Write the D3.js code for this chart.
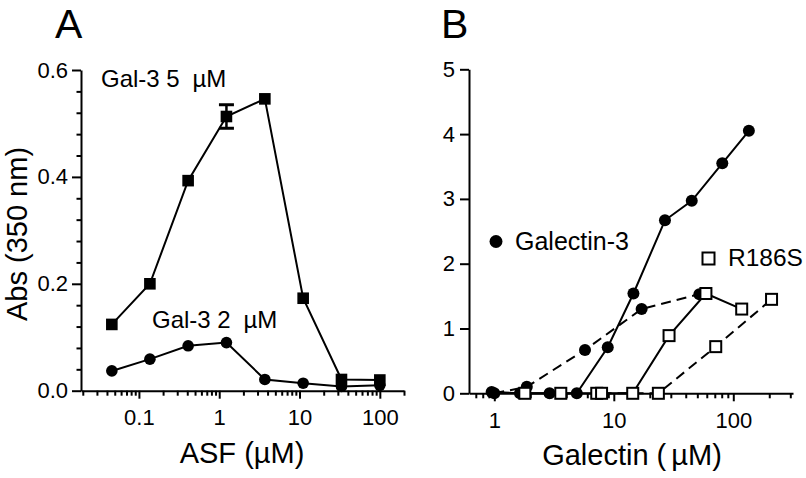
<!DOCTYPE html>
<html><head><meta charset="utf-8">
<script src="https://cdn.jsdelivr.net/npm/d3@7"></script>
<style>
body{margin:0;background:#fff;}
svg{display:block;font-family:"Liberation Sans",Arial,sans-serif;}
</style></head>
<body>
<svg id="chart" width="806" height="478"></svg>
<script>
// Panel A data
const asfConc = [0.046, 0.137, 0.41, 1.23, 3.7, 11.1, 33.3, 100];
const gal3_5uM = [0.124, 0.200, 0.393, 0.513, 0.546, 0.173, 0.021, 0.020];
const gal3_5uM_err = [0, 0, 0, 0.022, 0, 0, 0, 0];
const gal3_2uM = [0.037, 0.059, 0.084, 0.090, 0.021, 0.014, 0.008, 0.010];
const aXTicks = [0.1, 1, 10, 100];
const aXTickLabels = ["0.1", "1", "10", "100"];
const aYTicks = [0, 0.2, 0.4, 0.6];

// Panel B data
const gal3SolidConc = [0.95, 1.64, 2.9, 4.9, 8.9, 14.6, 26.8, 44.9, 80.9, 135];
const gal3SolidAbs  = [0.02, 0.0, 0.0, 0.0, 0.71, 1.54, 2.67, 2.97, 3.55, 4.05];
const gal3DashConc  = [1.0, 1.87, 5.74, 17.1, 52];
const gal3DashAbs   = [0.0, 0.10, 0.67, 1.30, 1.53];
const r186sSolidConc = [1.8, 3.6, 7.2, 14.4, 29, 59, 117.6];
const r186sSolidAbs  = [0, 0, 0, 0, 0.89, 1.54, 1.30];
const r186sDashConc  = [7.9, 23.6, 71.3, 209];
const r186sDashAbs   = [0, 0, 0.72, 1.45];
const bXTicks = [1, 10, 100];
const bXTickLabels = ["1", "10", "100"];
const bYTicks = [0, 1, 2, 3, 4, 5];

const svg = d3.select("#chart");
const FONT_TICK = 22, FONT_TITLE = 29;

function minorLogTicks(lo, hi) {
  const out = [];
  for (let e = -3; e <= 3; e++) {
    for (let m = 1; m <= 9; m++) {
      const v = m * Math.pow(10, e);
      if (v >= lo * 0.999 && v <= hi * 1.001 && m !== 1) out.push(v);
    }
  }
  return out;
}

function styleAxis(g) {
  g.selectAll("path.domain").attr("stroke", "#000").attr("stroke-width", 2);
  g.selectAll(".tick line").attr("stroke", "#000").attr("stroke-width", 2);
  g.selectAll(".tick text").attr("font-size", FONT_TICK).attr("fill", "#000")
    .attr("font-family", "Liberation Sans, Arial, sans-serif");
}

// ---------------- Panel A ----------------
const xA = d3.scaleLog().domain([0.019, 200]).range([81, 404]);
const yA = d3.scaleLinear().domain([0, 0.6]).range([390.7, 70]);

const gAxA = svg.append("g").attr("transform", `translate(0,${yA(0)})`)
  .call(d3.axisBottom(xA).tickValues(aXTicks).tickFormat((d, i) => aXTickLabels[i]).tickSize(8).tickPadding(11).tickSizeOuter(0));
styleAxis(gAxA);
const gAxAm = svg.append("g").attr("transform", `translate(0,${yA(0)})`)
  .call(d3.axisBottom(xA).tickValues(minorLogTicks(0.02, 200)).tickFormat("").tickSize(5).tickSizeOuter(0));
styleAxis(gAxAm);
gAxAm.select("path.domain").remove();

const gAyA = svg.append("g").attr("transform", `translate(${xA.range()[0]},0)`)
  .call(d3.axisLeft(yA).tickValues(aYTicks).tickFormat(d3.format(".1f")).tickSize(9).tickPadding(4).tickSizeOuter(0));
styleAxis(gAyA);
const gAyAm = svg.append("g").attr("transform", `translate(${xA.range()[0]},0)`)
  .call(d3.axisLeft(yA).tickValues(d3.range(0.04, 0.6, 0.04).filter(v => Math.abs(v / 0.2 - Math.round(v / 0.2)) > 0.01)).tickFormat("").tickSize(4.5).tickSizeOuter(0));
styleAxis(gAyAm);
gAyAm.select("path.domain").remove();

const lineA = d3.line().x(d => xA(d[0])).y(d => yA(d[1]));
const dA5 = asfConc.map((c, i) => [c, gal3_5uM[i], gal3_5uM_err[i]]);
const dA2 = asfConc.map((c, i) => [c, gal3_2uM[i]]);

svg.append("path").datum(dA2).attr("d", lineA).attr("fill", "none").attr("stroke", "#000").attr("stroke-width", 2);
svg.append("path").datum(dA5).attr("d", lineA).attr("fill", "none").attr("stroke", "#000").attr("stroke-width", 2);

// error bars
dA5.filter(d => d[2] > 0).forEach(d => {
  const x = xA(d[0]);
  svg.append("line").attr("x1", x).attr("x2", x).attr("y1", yA(d[1] - d[2])).attr("y2", yA(d[1] + d[2]))
    .attr("stroke", "#000").attr("stroke-width", 2.5);
  [d[1] - d[2], d[1] + d[2]].forEach(v => {
    svg.append("line").attr("x1", x - 7.5).attr("x2", x + 7.5).attr("y1", yA(v)).attr("y2", yA(v))
      .attr("stroke", "#000").attr("stroke-width", 3);
  });
});

svg.append("g").selectAll("circle").data(dA2).join("circle")
  .attr("cx", d => xA(d[0])).attr("cy", d => yA(d[1])).attr("r", 5.8).attr("fill", "#000");
svg.append("g").selectAll("rect").data(dA5).join("rect")
  .attr("x", d => xA(d[0]) - 5.8).attr("y", d => yA(d[1]) - 5.8).attr("width", 11.6).attr("height", 11.6).attr("fill", "#000");

// texts A
svg.append("text").attr("x", 55).attr("y", 38).attr("font-size", 41).text("A");
const tA5 = svg.append("text").attr("x", 101).attr("y", 86.5).attr("font-size", 24);
tA5.append("tspan").text("Gal-3 5 ");
tA5.append("tspan").attr("dx", 6).text("µM");
const tA2 = svg.append("text").attr("x", 152).attr("y", 327.5).attr("font-size", 24);
tA2.append("tspan").text("Gal-3 2 ");
tA2.append("tspan").attr("dx", 6).text("µM");
svg.append("text").attr("x", 242).attr("y", 463).attr("text-anchor", "middle").attr("font-size", FONT_TITLE).text("ASF (µM)");
svg.append("text").attr("transform", "translate(27,234) rotate(-90)").attr("text-anchor", "middle")
  .attr("font-size", FONT_TITLE).text("Abs (350 nm)");

// ---------------- Panel B ----------------
const xB = d3.scaleLog().domain([0.614, 316]).range([469, 793]);
const yB = d3.scaleLinear().domain([0, 5]).range([393.3, 69.3]);

const gAxB = svg.append("g").attr("transform", `translate(0,${yB(0)})`)
  .call(d3.axisBottom(xB).tickValues(bXTicks).tickFormat((d, i) => bXTickLabels[i]).tickSize(8).tickPadding(11).tickSizeOuter(0));
styleAxis(gAxB);
const gAxBm = svg.append("g").attr("transform", `translate(0,${yB(0)})`)
  .call(d3.axisBottom(xB).tickValues(minorLogTicks(0.7, 300)).tickFormat("").tickSize(5).tickSizeOuter(0));
styleAxis(gAxBm);
gAxBm.select("path.domain").remove();

const gAyB = svg.append("g").attr("transform", `translate(${xB.range()[0]},0)`)
  .call(d3.axisLeft(yB).tickValues(bYTicks).tickFormat(d3.format("d")).tickSize(9).tickPadding(5).tickSizeOuter(0));
styleAxis(gAyB);

const lineB = d3.line().x(d => xB(d[0])).y(d => yB(d[1]));
const zip = (a, b) => a.map((v, i) => [v, b[i]]);
const dGS = zip(gal3SolidConc, gal3SolidAbs);
const dGD = zip(gal3DashConc, gal3DashAbs);
const dRS = zip(r186sSolidConc, r186sSolidAbs);
const dRD = zip(r186sDashConc, r186sDashAbs);

[[dGD, true], [dRD, true], [dGS, false], [dRS, false]].forEach(([d, dashed]) => {
  svg.append("path").datum(d).attr("d", lineB).attr("fill", "none").attr("stroke", "#000")
    .attr("stroke-width", 2).attr("stroke-dasharray", dashed ? "10,6" : null);
});

[dGS, dGD].forEach(d => {
  svg.append("g").selectAll("circle").data(d).join("circle")
    .attr("cx", p => xB(p[0])).attr("cy", p => yB(p[1])).attr("r", 6).attr("fill", "#000");
});
[dRS, dRD].forEach(d => {
  svg.append("g").selectAll("rect").data(d).join("rect")
    .attr("x", p => xB(p[0]) - 5.5).attr("y", p => yB(p[1]) - 5.5).attr("width", 11).attr("height", 11)
    .attr("fill", "#fff").attr("stroke", "#000").attr("stroke-width", 2);
});

// texts B
svg.append("text").attr("x", 441).attr("y", 38).attr("font-size", 41).text("B");
svg.append("circle").attr("cx", 496).attr("cy", 241.5).attr("r", 6.5).attr("fill", "#000");
svg.append("text").attr("x", 515).attr("y", 250).attr("font-size", 25).text("Galectin-3");
svg.append("rect").attr("x", 702.5).attr("y", 252.5).attr("width", 12).attr("height", 12)
  .attr("fill", "#fff").attr("stroke", "#000").attr("stroke-width", 2);
svg.append("text").attr("x", 728).attr("y", 266).attr("font-size", 24.5).text("R186S");
const tB = svg.append("text").attr("x", 632).attr("y", 465).attr("text-anchor", "middle").attr("font-size", FONT_TITLE);
tB.append("tspan").text("Galectin (");
tB.append("tspan").attr("dx", 5).text("µM)");
</script>
</body></html>
